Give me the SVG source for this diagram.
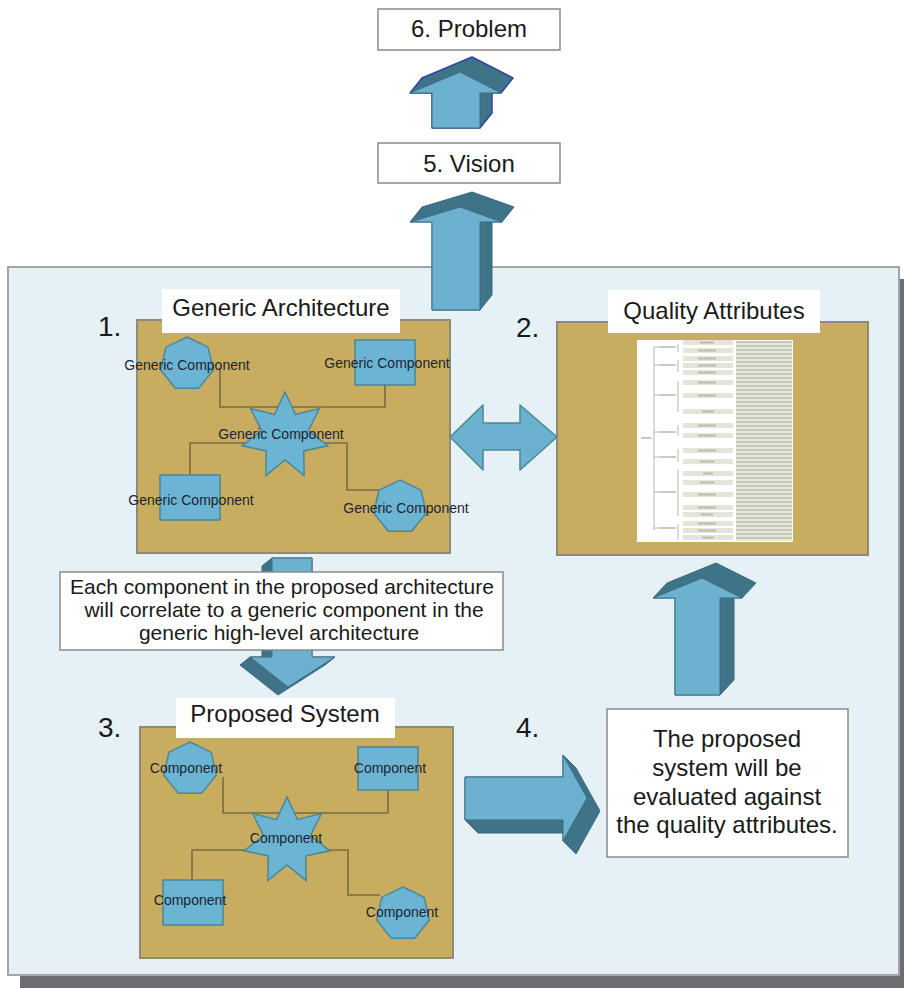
<svg xmlns="http://www.w3.org/2000/svg" xmlns:xlink="http://www.w3.org/1999/xlink" width="904" height="988" viewBox="0 0 904 988">
<style>
  .frame{fill:#e6f1f5;stroke:#a3a5a8;stroke-width:2}
  .shadow{fill:#6d6d72}
  .panel{fill:#c8ad60;stroke:#8e8a78;stroke-width:2}
  .label-box{fill:#ffffff}
  .box{fill:#ffffff;stroke:#8a8a8a;stroke-width:1.5}
  .shape{fill:#6cb4d3;stroke:#4b8795;stroke-width:1.5}
  .link{fill:none;stroke:#7a6b42;stroke-width:1.6}
  .ar-front{fill:#6cb2d0;stroke:#3c6c82;stroke-width:1;stroke-linejoin:round}
  .ar-dark{fill:#3f7388;stroke:#3a6a80;stroke-width:1;stroke-linejoin:round}
  .title{font-family:"Liberation Sans",Arial,sans-serif;font-size:24px;fill:#1a1a1a;text-anchor:middle}
  .num{font-family:"Liberation Sans",Arial,sans-serif;font-size:28px;fill:#1a1a1a}
  .comp{font-family:"Liberation Sans",Arial,sans-serif;font-size:14px;fill:#1c2530;text-anchor:middle}
  .note{font-family:"Liberation Sans",Arial,sans-serif;font-size:21px;fill:#1a1a1a;text-anchor:middle}
  .note4{font-family:"Liberation Sans",Arial,sans-serif;font-size:24px;fill:#1a1a1a;text-anchor:middle}
  .row{fill:#e3e5d8}
  .rowmark{fill:#b9bcaa}
  .tline{stroke:#b5b7ab;stroke-width:1;fill:none}
</style>
<defs>
  <polygon id="hept" points="0,-27 21.11,-16.83 26.32,6.01 11.72,24.33 -11.72,24.33 -26.32,6.01 -21.11,-16.83"/>
  <polygon id="star" points="0,-44 10.41,-21.62 34.4,-27.43 23.4,-5.34 42.9,9.79 18.76,14.96 19.09,39.64 0,24 -19.09,39.64 -18.76,14.96 -42.9,9.79 -23.4,-5.34 -34.4,-27.43 -10.41,-21.62"/>
  <pattern id="txtlines" width="8" height="4" patternUnits="userSpaceOnUse">
    <rect x="0" y="0" width="8" height="4" fill="#e4e6db"/>
    <rect x="0" y="1.5" width="8" height="1" fill="#a9ab9e"/>
  </pattern>
</defs>

<!-- background frame -->
<g id="frame">
  <rect class="shadow" x="20" y="279" width="891" height="709"/>
  <rect class="frame" x="8" y="267" width="891" height="708"/>
</g>

<!-- panel backgrounds -->
<g id="generic-architecture-panel">
  <rect class="panel" x="137" y="320" width="313" height="233"/>
</g>
<g id="quality-attributes-panel">
  <rect class="panel" x="557" y="322" width="311" height="233"/>
</g>
<g id="proposed-system-panel">
  <rect class="panel" x="140" y="727" width="313" height="231"/>
</g>

<!-- connectors -->
<g id="connectors">
  <path class="link" d="M220,368 V407 H385 V385"/>
  <path class="link" d="M285,443 H190 V475"/>
  <path class="link" d="M285,443 H347 V490 H380"/>
  <path class="link" d="M223,777 V813 H388 V790"/>
  <path class="link" d="M287,850 H192 V880"/>
  <path class="link" d="M287,850 H348 V895 H380"/>

  <g id="arrow-vision-problem">
    <polygon class="ar-dark" style="stroke:#2f45a0;stroke-width:1.5" points="472,57 513,78 501,93 492,93 492,113 480,128 432,128 432,93 410,93 422,78"/>
    <polygon class="ar-front" points="460,72 501,93 480,93 480,128 432,128 432,93 410,93"/>
  </g>
  <g id="arrow-architecture-vision">
    <polygon class="ar-dark" points="472,192 514,207 502,222 492,222 492,295 480,310 432,310 432,222 410,222 422,207"/>
    <polygon class="ar-front" points="460,207 502,222 480,222 480,310 432,310 432,222 410,222"/>
  </g>
  <g id="arrow-evaluation-quality">
    <polygon class="ar-dark" points="716,563 756,583 742,598 734,598 734,680 720,695 675,695 675,598 653,598 667,583"/>
    <polygon class="ar-front" points="702,578 742,598 720,598 720,695 675,695 675,598 653,598"/>
  </g>
  <g id="arrow-proposed-evaluation">
    <polygon class="ar-dark" points="465,777 563,777 563,755 576,768 600,811 576,854 563,841 563,833 478,833 465,820"/>
    <polygon class="ar-front" points="465,777 563,777 563,755 587,798 563,841 563,820 465,820"/>
  </g>
  <g id="arrow-architecture-proposed">
    <polygon class="ar-dark" points="272,558 312,558 312,657 335,657 325,665 278,695 240,665 250,657 262,657 262,566"/>
    <polygon class="ar-front" points="272,558 312,558 312,657 335,657 288,687 250,657 272,657"/>
  </g>
  <g id="arrow-architecture-quality">
    <polygon class="ar-front" style="stroke:#4b8795;stroke-width:1.5" points="450,437 483,405 483,423 520,423 520,405 557,437 520,470 520,450 483,450 483,470"/>
  </g>
</g>

<!-- top nodes -->
<g id="problem">
  <rect class="box" x="378" y="9" width="182" height="41"/>
  <text class="title" x="469" y="37">6. Problem</text>
</g>
<g id="vision">
  <rect class="box" x="378" y="143" width="182" height="40"/>
  <text class="title" x="469" y="172">5. Vision</text>
</g>

<!-- Generic architecture -->
<g id="generic-architecture">
  <rect class="label-box" x="162" y="289" width="238" height="44"/>
  <text class="title" x="281" y="316">Generic Architecture</text>
  <text class="num" x="98" y="336">1.</text>
  <g id="ga-comp-tl">
    <use class="shape" xlink:href="#hept" transform="translate(187,364)"/>
    <text class="comp" x="187" y="370">Generic Component</text>
  </g>
  <g id="ga-comp-tr">
    <rect class="shape" x="355" y="340" width="60" height="45"/>
    <text class="comp" x="387" y="368">Generic Component</text>
  </g>
  <g id="ga-comp-center">
    <use class="shape" xlink:href="#star" transform="translate(285,436)"/>
    <text class="comp" x="281" y="439">Generic Component</text>
  </g>
  <g id="ga-comp-bl">
    <rect class="shape" x="160" y="475" width="60" height="45"/>
    <text class="comp" x="191" y="505">Generic Component</text>
  </g>
  <g id="ga-comp-br">
    <use class="shape" xlink:href="#hept" transform="translate(400,507)"/>
    <text class="comp" x="406" y="513">Generic Component</text>
  </g>
</g>

<!-- Quality attributes -->
<g id="quality-attributes">
  <rect class="label-box" x="608" y="290" width="212" height="43"/>
  <text class="title" x="714" y="319">Quality Attributes</text>
  <text class="num" x="516" y="337">2.</text>
  <g id="quality-table">
    <rect x="637" y="340" width="156" height="202" fill="#ffffff"/>
    <rect x="736" y="341" width="56" height="200" fill="url(#txtlines)"/>
    <path class="tline" d="M641,438 H652 M654,347 V530 M654,347 H660 M654,365 H660 M654,395 H660 M654,432 H660 M654,457 H660 M654,492 H660 M654,528 H660"/>
    <g fill="#c9cbbf">
      <rect x="660" y="346" width="16" height="2"/>
      <rect x="660" y="364" width="16" height="2"/>
      <rect x="660" y="394" width="16" height="2"/>
      <rect x="660" y="431" width="16" height="2"/>
      <rect x="660" y="456" width="16" height="2"/>
      <rect x="660" y="491" width="16" height="2"/>
      <rect x="660" y="527" width="16" height="2"/>
      <rect x="641" y="437" width="10" height="2"/>
    </g>
    <path class="tline" d="M678,344 V352 M678,360 V372 M678,381 V412 M678,425 V436 M678,449 V462 M678,470 V516 M678,524 V540"/>
    <g class="row">
      <rect x="683" y="340" width="50" height="5"/>
      <rect x="683" y="348" width="50" height="5"/>
      <rect x="683" y="356" width="50" height="5"/>
      <rect x="683" y="363" width="50" height="5"/>
      <rect x="683" y="370" width="50" height="5"/>
      <rect x="683" y="380" width="50" height="5"/>
      <rect x="683" y="393" width="50" height="5"/>
      <rect x="683" y="409" width="50" height="5"/>
      <rect x="683" y="423" width="50" height="5"/>
      <rect x="683" y="433" width="50" height="5"/>
      <rect x="683" y="448" width="50" height="5"/>
      <rect x="683" y="459" width="50" height="5"/>
      <rect x="683" y="471" width="50" height="5"/>
      <rect x="683" y="480" width="50" height="5"/>
      <rect x="683" y="492" width="50" height="5"/>
      <rect x="683" y="505" width="50" height="5"/>
      <rect x="683" y="512" width="50" height="5"/>
      <rect x="683" y="521" width="50" height="5"/>
      <rect x="683" y="528" width="50" height="5"/>
      <rect x="683" y="535" width="50" height="5"/>
    </g>
    <g class="rowmark">
      <rect x="700" y="341.5" width="14" height="2"/>
      <rect x="698" y="349.5" width="18" height="2"/>
      <rect x="698" y="357.5" width="18" height="2"/>
      <rect x="698" y="364.5" width="18" height="2"/>
      <rect x="698" y="371.5" width="18" height="2"/>
      <rect x="698" y="381.5" width="18" height="2"/>
      <rect x="698" y="394.5" width="18" height="2"/>
      <rect x="702" y="410.5" width="12" height="2"/>
      <rect x="698" y="424.5" width="18" height="2"/>
      <rect x="698" y="434.5" width="18" height="2"/>
      <rect x="698" y="449.5" width="18" height="2"/>
      <rect x="700" y="460.5" width="14" height="2"/>
      <rect x="703" y="472.5" width="10" height="2"/>
      <rect x="700" y="481.5" width="14" height="2"/>
      <rect x="698" y="493.5" width="18" height="2"/>
      <rect x="698" y="506.5" width="18" height="2"/>
      <rect x="701" y="513.5" width="12" height="2"/>
      <rect x="698" y="522.5" width="18" height="2"/>
      <rect x="698" y="529.5" width="18" height="2"/>
      <rect x="702" y="536.5" width="12" height="2"/>
    </g>
  </g>
</g>

<!-- correlation note -->
<g id="correlation-note">
  <rect class="box" x="60" y="572" width="443" height="78"/>
  <text class="note" x="282" y="594">Each component in the proposed architecture</text>
  <text class="note" x="284" y="617">will correlate to a generic component in the</text>
  <text class="note" x="279" y="640">generic high-level architecture</text>
</g>

<!-- Proposed system -->
<g id="proposed-system">
  <rect class="label-box" x="176" y="698" width="219" height="40"/>
  <text class="title" x="285" y="722">Proposed System</text>
  <text class="num" x="98" y="737">3.</text>
  <g id="ps-comp-tl">
    <use class="shape" xlink:href="#hept" transform="translate(190,769)"/>
    <text class="comp" x="186" y="773">Component</text>
  </g>
  <g id="ps-comp-tr">
    <rect class="shape" x="358" y="747" width="60" height="43"/>
    <text class="comp" x="390" y="773">Component</text>
  </g>
  <g id="ps-comp-center">
    <use class="shape" xlink:href="#star" transform="translate(287,841)"/>
    <text class="comp" x="286" y="843">Component</text>
  </g>
  <g id="ps-comp-bl">
    <rect class="shape" x="163" y="880" width="60" height="45"/>
    <text class="comp" x="190" y="905">Component</text>
  </g>
  <g id="ps-comp-br">
    <use class="shape" xlink:href="#hept" transform="translate(403,914)"/>
    <text class="comp" x="402" y="917">Component</text>
  </g>
</g>

<!-- evaluation note -->
<g id="evaluation">
  <text class="num" x="516" y="737">4.</text>
  <rect class="box" x="607" y="709" width="241" height="148"/>
  <text class="note4" x="727" y="747">The proposed</text>
  <text class="note4" x="727" y="776">system will be</text>
  <text class="note4" x="727" y="805">evaluated against</text>
  <text class="note4" x="727" y="833">the quality attributes.</text>
</g>
</svg>
